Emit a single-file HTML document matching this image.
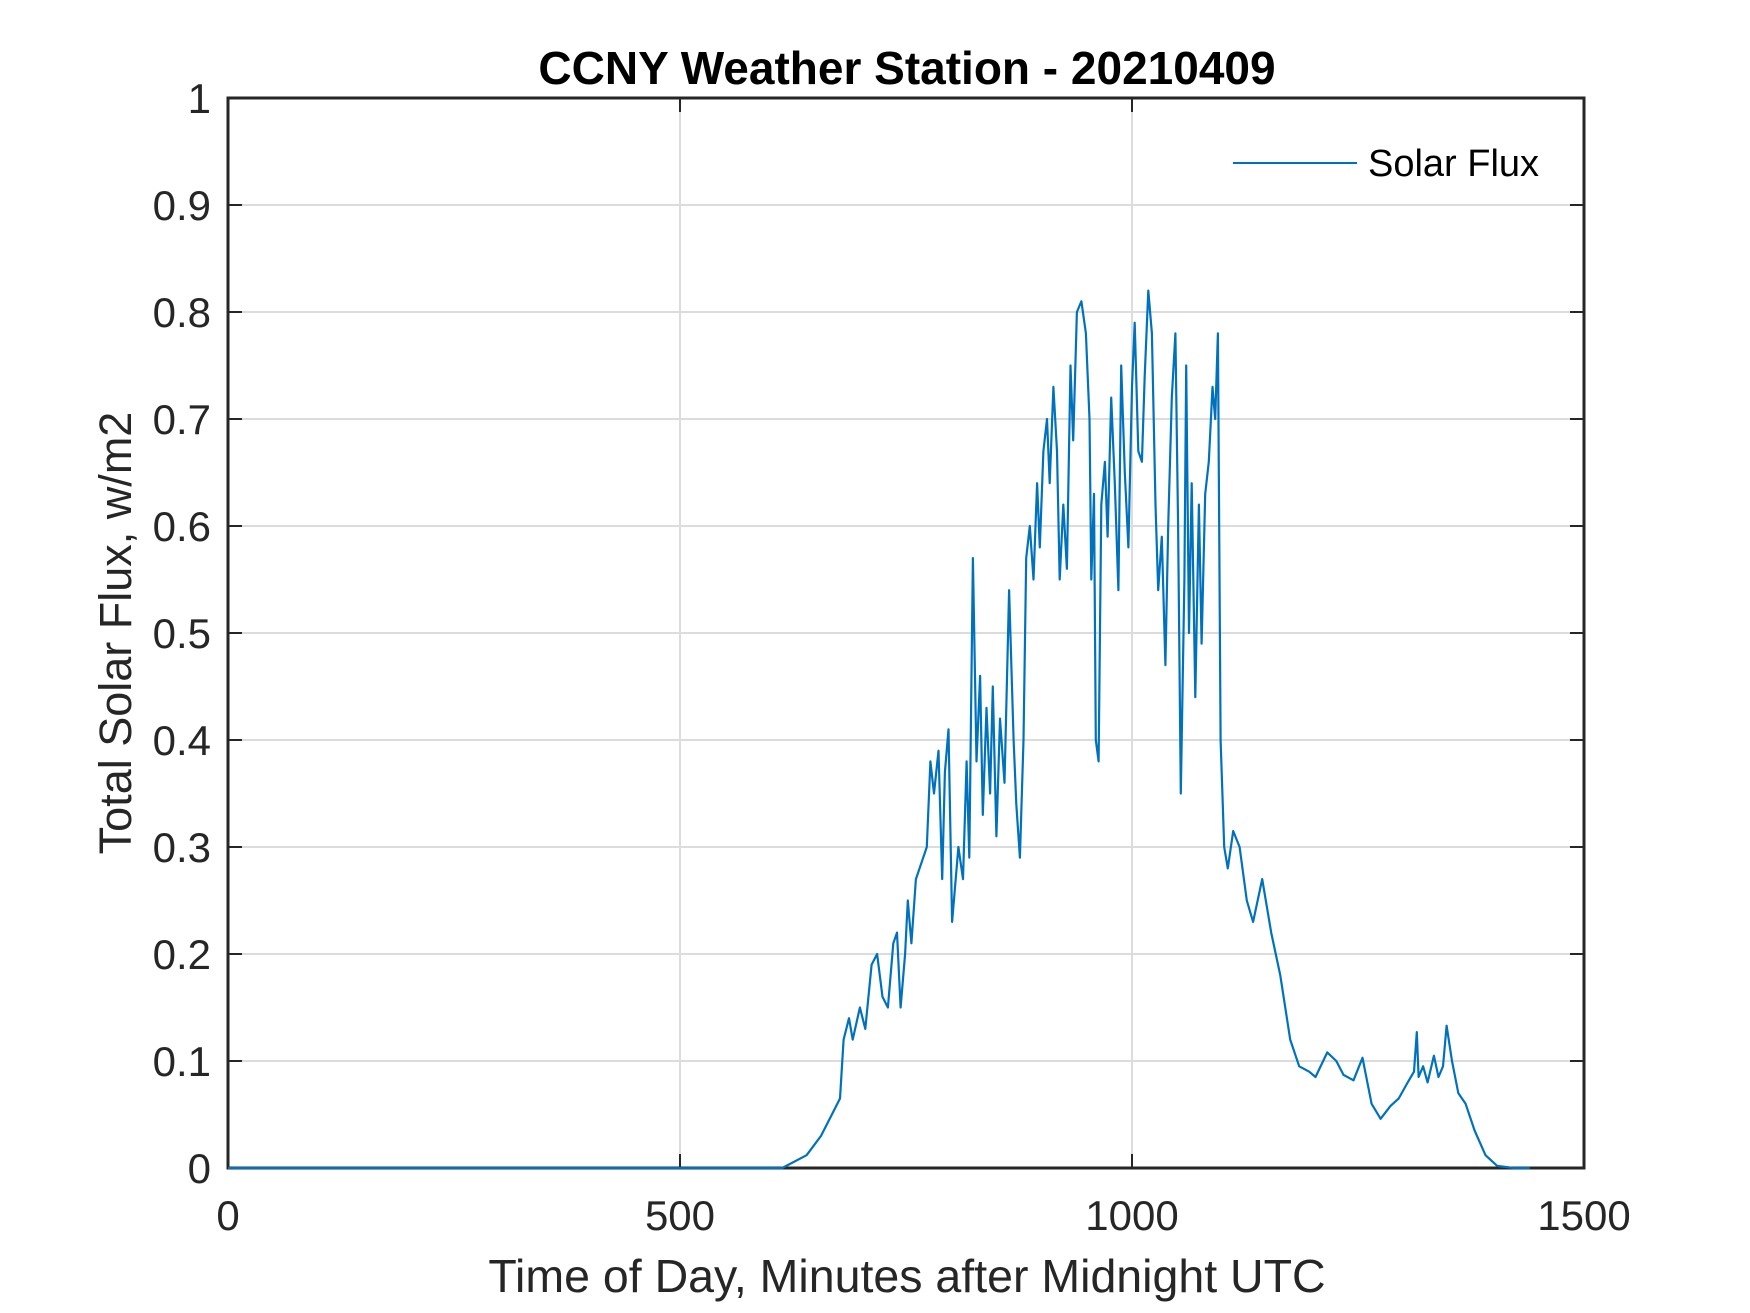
<!DOCTYPE html>
<html><head><meta charset="utf-8"><style>
html,body{margin:0;padding:0;background:#fff;}
svg{display:block;font-family:"Liberation Sans",Arial,sans-serif;}
</style></head><body>
<svg id="chart" width="1750" height="1313" viewBox="0 0 1750 1313" xmlns="http://www.w3.org/2000/svg">
<rect x="0" y="0" width="1750" height="1313" fill="#fff"/>
<g id="grid"></g>
<g id="axes"></g>
<g id="series"></g>
<text x="907" y="84" text-anchor="middle" font-size="46" font-weight="bold" fill="#000">CCNY Weather Station - 20210409</text>
<text x="907" y="1292" text-anchor="middle" font-size="46.5" fill="#262626">Time of Day, Minutes after Midnight UTC</text>
<text transform="translate(131,633) rotate(-90)" text-anchor="middle" font-size="45" fill="#262626">Total Solar Flux, w/m2</text>
<g>
<line x1="1233" y1="163" x2="1357" y2="163" stroke="#0072BD" stroke-width="2"/>
<text x="1368" y="176" font-size="38" fill="#000">Solar Flux</text>
</g>
</svg>
<script>
const xTicks=[0,500,1000,1500];
const yTicks=[0,0.1,0.2,0.3,0.4,0.5,0.6,0.7,0.8,0.9,1];
const yTickLabels=["0","0.1","0.2","0.3","0.4","0.5","0.6","0.7","0.8","0.9","1"];
const times=[0,613,640,656,668,677,681,687,691,699,705,712,718,724,730,736,740,744,749,752,756,761,769,773,777,781,786,790,793,797,801,804,808,813,817,820,824,828,832,835,839,843,846,850,854,859,864,869,872,876,880,883,887,891,895,898,902,906,909,913,917,920,924,928,932,935,939,944,949,953,955,958,960,963,966,970,973,977,981,985,988,992,996,1000,1003,1007,1011,1014,1018,1022,1026,1029,1033,1037,1040,1044,1048,1051,1054,1058,1060,1063,1066,1070,1074,1077,1081,1085,1089,1092,1095,1098,1102,1106,1112,1119,1127,1134,1144,1154,1164,1175,1185,1196,1203,1216,1226,1234,1245,1255,1265,1275,1286,1295,1305,1312,1315,1317,1322,1327,1334,1339,1344,1348,1354,1361,1369,1379,1391,1404,1422,1440];
const flux=[0,0,0.012,0.03,0.05,0.065,0.12,0.14,0.12,0.15,0.13,0.19,0.2,0.16,0.15,0.21,0.22,0.15,0.2,0.25,0.21,0.27,0.29,0.3,0.38,0.35,0.39,0.27,0.37,0.41,0.23,0.26,0.3,0.27,0.38,0.29,0.57,0.38,0.46,0.33,0.43,0.35,0.45,0.31,0.42,0.36,0.54,0.4,0.34,0.29,0.4,0.57,0.6,0.55,0.64,0.58,0.67,0.7,0.64,0.73,0.67,0.55,0.62,0.56,0.75,0.68,0.8,0.81,0.78,0.7,0.55,0.63,0.4,0.38,0.62,0.66,0.59,0.72,0.64,0.54,0.75,0.65,0.58,0.73,0.79,0.67,0.66,0.74,0.82,0.78,0.62,0.54,0.59,0.47,0.6,0.72,0.78,0.6,0.35,0.55,0.75,0.5,0.64,0.44,0.62,0.49,0.63,0.66,0.73,0.7,0.78,0.4,0.3,0.28,0.315,0.3,0.25,0.23,0.27,0.22,0.18,0.12,0.095,0.09,0.085,0.108,0.1,0.087,0.082,0.103,0.06,0.046,0.058,0.065,0.08,0.09,0.127,0.085,0.095,0.08,0.105,0.085,0.095,0.133,0.1,0.07,0.06,0.035,0.012,0.002,0,0];

const L=228,R=1584,T=98,B=1168;
const xMin=0,xMax=1500,yMin=0,yMax=1;
function xs(v){return L+(v-xMin)/(xMax-xMin)*(R-L);}
function ys(v){return B-(v-yMin)/(yMax-yMin)*(B-T);}
const NS="http://www.w3.org/2000/svg";
const grid=document.getElementById('grid'),axes=document.getElementById('axes'),series=document.getElementById('series');
function mk(tag,attrs,parent){const e=document.createElementNS(NS,tag);for(const k in attrs)e.setAttribute(k,attrs[k]);parent.appendChild(e);return e;}

xTicks.forEach((t,i)=>{
  const x=xs(t);
  if(t>xMin&&t<xMax){
    const g=mk('line',{x1:x,y1:T,x2:x,y2:B,stroke:'#dcdcdc','stroke-width':2},grid);
    
    
  }
  const tk=mk('line',{x1:x,y1:B,x2:x,y2:B-14,stroke:'#262626','stroke-width':2},axes);
  
  
  const tk2=mk('line',{x1:x,y1:T,x2:x,y2:T+14,stroke:'#262626','stroke-width':2},axes);
  
  
  const lb=mk('text',{x:x,y:1230,'text-anchor':'middle','font-size':42,fill:'#262626'},axes);
  lb.textContent=String(t);
  
  
});
yTicks.forEach((t,i)=>{
  const y=ys(t);
  if(t>yMin&&t<yMax){
    const g=mk('line',{x1:L,y1:y,x2:R,y2:y,stroke:'#dcdcdc','stroke-width':2},grid);
    
    
  }
  const tk=mk('line',{x1:L,y1:y,x2:L+14,y2:y,stroke:'#262626','stroke-width':2},axes);
  
  
  const tk2=mk('line',{x1:R,y1:y,x2:R-14,y2:y,stroke:'#262626','stroke-width':2},axes);
  
  
  const lb=mk('text',{x:211,y:y+15,'text-anchor':'end','font-size':42,fill:'#262626'},axes);
  lb.textContent=yTickLabels[i];
  
  
});
const box=mk('rect',{x:L,y:T,width:R-L,height:B-T,fill:'none',stroke:'#262626','stroke-width':3},axes);



let d='';
times.forEach((t,i)=>{d+=(i?'L':'M')+xs(t).toFixed(1)+' '+ys(flux[i]).toFixed(1);});
const p=mk('path',{d:d,fill:'none',stroke:'#0072BD','stroke-width':2.2,'stroke-linejoin':'round'},series);


</script>
</body></html>
